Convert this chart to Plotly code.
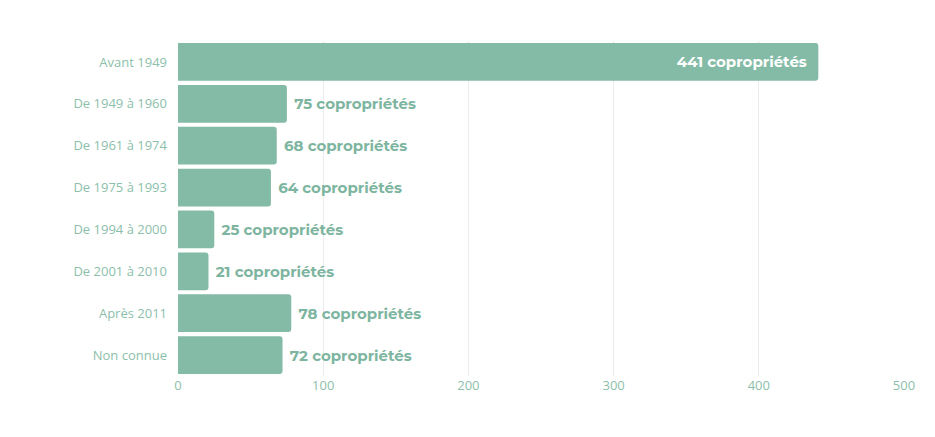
import plotly.graph_objects as go

PERIODS = [
    "Avant 1949",
    "De 1949 à 1960",
    "De 1961 à 1974",
    "De 1975 à 1993",
    "De 1994 à 2000",
    "De 2001 à 2010",
    "Après 2011",
    "Non connue",
]
COUNTS = [441, 75, 68, 64, 25, 21, 78, 72]
X_TICKS = [0, 100, 200, 300, 400, 500]

GREEN = "#84bba6"
NBSP = "\u00a0"


def main():
    labels = []
    positions = []
    colors = []
    for i, n in enumerate(COUNTS):
        if i == 0:
            labels.append(f"{n} copropriétés{NBSP * 2}")
            positions.append("inside")
            colors.append("white")
        else:
            labels.append(f"{NBSP}{n} copropriétés")
            positions.append("outside")
            colors.append("#7db5a0")

    fig = go.Figure(
        go.Bar(
            x=COUNTS,
            y=PERIODS,
            orientation="h",
            marker=dict(color=GREEN, line=dict(width=0)),
            text=labels,
            textposition=positions,
            insidetextanchor="end",
            textfont=dict(family="Montserrat, Open Sans, sans-serif", size=15, color=colors, weight="bold"),
            cliponaxis=False,
            hoverinfo="skip",
        )
    )

    # page body adds ~8px offset, margins compensate for it
    fig.update_layout(
        width=935,
        height=437,
        margin=dict(l=170, r=39, t=33, b=69),
        paper_bgcolor="white",
        plot_bgcolor="white",
        bargap=0.1,
        barcornerradius=3,
        showlegend=False,
        font=dict(family="Open Sans, sans-serif", color="#8cc0ab", size=13),
    )
    fig.update_xaxes(
        range=[0, 500],
        tickvals=X_TICKS,
        showgrid=True,
        gridcolor="#ececec",
        gridwidth=1,
        zeroline=False,
        showline=False,
        ticks="",
        tickfont=dict(size=13, color="#8cc0ab"),
    )
    fig.update_yaxes(
        autorange="reversed",
        showgrid=False,
        ticks="",
        ticklen=0,
        showline=False,
        tickfont=dict(size=13, color="#8cc0ab"),
        ticklabelstandoff=10,
    )

    fig.write_html("out.html")


if __name__ == "__main__":
    main()
